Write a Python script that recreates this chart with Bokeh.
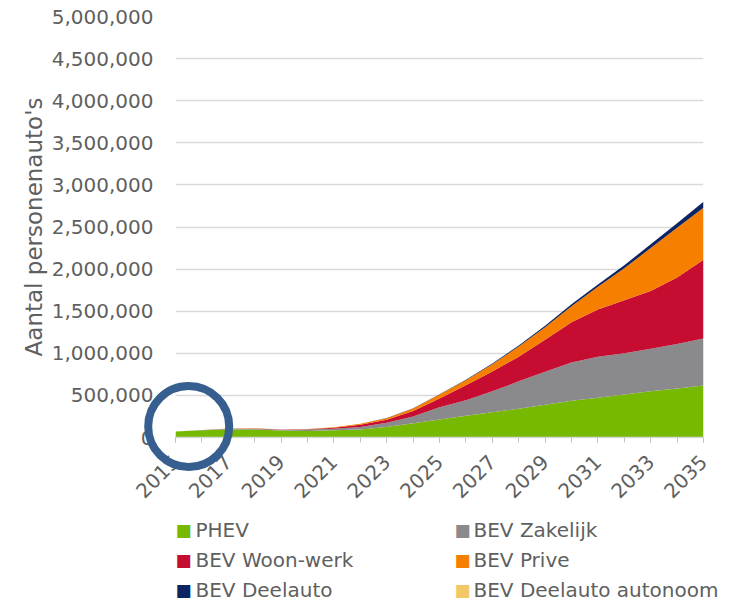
import math
from bokeh.plotting import figure
from bokeh.core.properties import value
from bokeh.models import (ColumnDataSource, FixedTicker, NumeralTickFormatter, Range1d)
from bokeh.embed import file_html
from bokeh.resources import INLINE

years = list(range(2015, 2036))
phev = [72000, 85000, 95000, 95000, 82000, 78000, 85000, 95000, 125000, 168000, 215000,
        258000, 300000, 342000, 388000, 435000, 472000, 510000, 548000, 582000, 618000]
bev_zakelijk = [0, 4000, 8000, 10000, 10000, 16000, 20000, 30000, 50000, 82000, 145000,
                185000, 248000, 325000, 392000, 455000, 488000, 492000, 507000, 528000, 557000]
bev_woon_werk = [0, 0, 2000, 3000, 2000, 4000, 10000, 25000, 35000, 65000, 102000,
                 177000, 237000, 293000, 380000, 480000, 560000, 628000, 685000, 790000, 935000]
bev_prive = [0, 0, 1000, 1000, 1000, 2000, 7000, 12000, 20000, 30000, 48000,
             60000, 85000, 120000, 150000, 190000, 270000, 380000, 510000, 590000, 620000]
bev_deelauto = [0, 0, 0, 0, 0, 0, 0, 0, 1000, 1000, 3000,
                5000, 8000, 12000, 16000, 22000, 28000, 35000, 45000, 55000, 70000]
bev_deelauto_autonoom = [0] * 21

series_keys = ["phev", "zakelijk", "woonwerk", "prive", "deelauto", "autonoom"]
series_names = ["PHEV", "BEV Zakelijk", "BEV Woon-werk", "BEV Prive", "BEV Deelauto",
                "BEV Deelauto autonoom"]
series_colors = ["#76b900", "#8a8a8c", "#c60c30", "#f77f00", "#0c2461", "#f2c866"]

x_tick_labels = list(range(2015, 2036, 2))
y_ticks = [0, 500000, 1000000, 1500000, 2000000, 2500000, 3000000, 3500000,
           4000000, 4500000, 5000000]

highlight_x = [2015.5]
highlight_y = [130000]

FONT = "DejaVu Sans"
TXT = "#5f5f5f"

# ---- layout (screen pixels) ----
W, H = 742, 605
FRAME_L, FRAME_R, FRAME_T, FRAME_B = 175, 703, 16, 437
X0, X1, Y0, Y1 = 2015, 2035, 0, 5000000

def px_to_x(px):
    return X0 + (px - FRAME_L) * (X1 - X0) / (FRAME_R - FRAME_L)

def px_to_y(py):
    return Y0 + (FRAME_B - py) * (Y1 - Y0) / (FRAME_B - FRAME_T)

source = ColumnDataSource(dict(year=years, phev=phev, zakelijk=bev_zakelijk,
                               woonwerk=bev_woon_werk, prive=bev_prive,
                               deelauto=bev_deelauto, autonoom=bev_deelauto_autonoom))

p = figure(width=W, height=H, x_range=Range1d(X0, X1), y_range=Range1d(Y0, Y1),
           output_backend="svg", toolbar_location=None,
           min_border_left=FRAME_L, min_border_right=W - FRAME_R,
           min_border_top=FRAME_T, min_border_bottom=H - FRAME_B)
p.outline_line_color = None
p.background_fill_color = "white"
p.border_fill_color = "white"

p.varea_stack(stackers=series_keys, x="year", color=series_colors, source=source)

p.xgrid.visible = False
p.ygrid.grid_line_color = "#d9d9d9"
p.ygrid.grid_line_width = 1.5

ya = p.yaxis[0]
ya.ticker = FixedTicker(ticks=y_ticks)
ya.formatter = NumeralTickFormatter(format="0,0")
ya.axis_line_color = None
ya.major_tick_line_color = None
ya.minor_tick_line_color = None
ya.major_label_text_font = FONT
ya.major_label_text_font_size = "20px"
ya.major_label_text_color = TXT
ya.major_label_standoff = 16
ya.axis_label = "Aantal personenauto's"
ya.axis_label_text_font = FONT
ya.axis_label_text_font_size = "23px"
ya.axis_label_text_font_style = "normal"
ya.axis_label_text_color = TXT
ya.axis_label_standoff = 2

xa = p.xaxis[0]
xa.ticker = FixedTicker(ticks=x_tick_labels, minor_ticks=years)
xa.major_label_orientation = math.pi / 4
xa.axis_line_color = "#d9d9d9"
xa.axis_line_width = 1.5
xa.major_tick_line_color = "#c0c0c0"
xa.minor_tick_line_color = "#c0c0c0"
xa.major_tick_in = 0
xa.major_tick_out = 5
xa.minor_tick_in = 0
xa.minor_tick_out = 5
xa.major_label_text_font = FONT
xa.major_label_text_font_size = "20px"
xa.major_label_text_color = TXT
xa.major_label_standoff = 16

# highlight ring (drawn at overlay level so it is not clipped to the plot frame)
p.scatter(x=highlight_x, y=highlight_y, marker="circle", size=81, fill_color=None,
          line_color="#365f8f", line_width=8, level="overlay")

# legend: two columns x three rows below the axis
col_swatch_px = [183, 462]
col_text_px = [195, 473]
row_px = [529, 559, 589]
leg_x, leg_tx, leg_y = [], [], []
for i in range(len(series_names)):
    r, c = divmod(i, 2)
    leg_x.append(px_to_x(col_swatch_px[c]))
    leg_tx.append(px_to_x(col_text_px[c]))
    leg_y.append(px_to_y(row_px[r]))
leg_src = ColumnDataSource(dict(x=leg_x, tx=leg_tx, y=leg_y, label=series_names,
                                color=series_colors, mark=["\u25A0"] * len(series_names)))
p.text(x="x", y="y", text="mark", source=leg_src, text_font=value(FONT),
       text_font_size=value("17px"), text_color="color", text_baseline="middle",
       text_align="center", level="overlay")
p.text(x="tx", y="y", text="label", source=leg_src, text_font=value(FONT),
       text_font_size=value("20px"), text_color=TXT, text_baseline="middle",
       text_align="left", level="overlay")

open("out.html", "w").write(file_html(p, INLINE))
